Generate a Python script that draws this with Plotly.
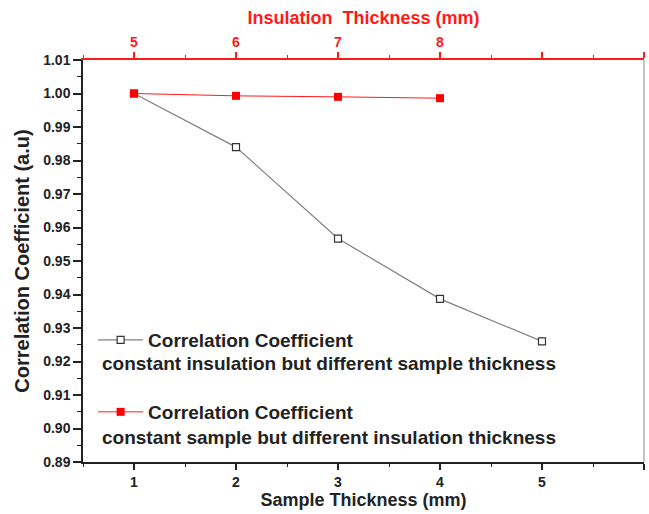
import plotly.graph_objects as go

sample_thickness = [1, 2, 3, 4, 5]
corr_sample = [1.000, 0.984, 0.9567, 0.9387, 0.926]
insulation_thickness = [5, 6, 7, 8]
corr_insulation = [1.000, 0.9993, 0.9990, 0.9986]

y_ticks = [0.89, 0.90, 0.91, 0.92, 0.93, 0.94, 0.95, 0.96, 0.97, 0.98, 0.99, 1.00, 1.01]
x_ticks = [1, 2, 3, 4, 5, 6]
x_ticktext = ["1", "2", "3", "4", "5", ""]
top_ticks = [5, 6, 7, 8, 9, 10]
top_ticktext = ["5", "6", "7", "8", "", ""]

FONT = "Liberation Sans"
RED = "#ff1a1a"
DARK = "#222222"

fig = go.Figure()
fig.add_trace(go.Scatter(
    x=sample_thickness, y=corr_sample, mode="lines+markers",
    name="Correlation Coefficient",
    line=dict(color="#808080", width=1.2),
    marker=dict(symbol="square", size=7, color="white", line=dict(color="#333333", width=1.2)),
    legend="legend",
))
fig.add_trace(go.Scatter(
    x=insulation_thickness, y=corr_insulation, mode="lines+markers",
    name="Correlation Coefficient",
    xaxis="x2",
    line=dict(color=RED, width=1),
    marker=dict(symbol="square", size=8, color="#ff0000"),
    legend="legend2",
))

tickfont = dict(family=FONT, size=14, color=DARK, weight="bold")
legfont = dict(family=FONT, size=19, color=DARK, weight="bold")

fig.update_layout(
    width=649, height=514,
    margin=dict(l=83, r=5, t=60, b=52),
    paper_bgcolor="white", plot_bgcolor="white",
    xaxis=dict(
        range=[0.5, 6.0], tickvals=x_ticks, ticktext=x_ticktext,
        ticks="outside", ticklen=6, tickwidth=1.5, tickcolor=DARK,
        showline=True, linecolor=DARK, linewidth=1.5, showgrid=False, zeroline=False,
        minor=dict(dtick=0.5, tick0=0.5, ticks="outside", ticklen=3, tickwidth=1.2, tickcolor=DARK, showgrid=False),
        tickfont=tickfont,
        title=dict(text="Sample Thickness (mm)", font=dict(family=FONT, size=18, color=DARK, weight="bold"), standoff=2),
    ),
    xaxis2=dict(
        range=[4.5, 10.0], overlaying="x", side="top", anchor="y",
        tickvals=top_ticks, ticktext=top_ticktext,
        ticks="outside", ticklen=6, tickwidth=1.5, tickcolor=RED,
        showline=True, linecolor=RED, linewidth=1.5, showgrid=False, zeroline=False,
        minor=dict(dtick=0.5, tick0=4.5, ticks="outside", ticklen=3, tickwidth=1.2, tickcolor=RED, showgrid=False),
        tickfont=dict(family=FONT, size=14, color=RED, weight="bold"),
        title=dict(text="Insulation&nbsp;&nbsp;Thickness (mm)", font=dict(family=FONT, size=18, color=RED, weight="bold"), standoff=4),
    ),
    yaxis=dict(
        range=[0.89, 1.01], tickvals=y_ticks, tickformat=".2f",
        ticks="outside", ticklen=8, tickwidth=1.5, tickcolor=DARK,
        showline=True, linecolor=DARK, linewidth=1.5, showgrid=False, zeroline=False,
        minor=dict(dtick=0.005, tick0=0.89, ticks="outside", ticklen=4, tickwidth=1.2, tickcolor=DARK, showgrid=False),
        tickfont=tickfont,
        title=dict(text="Correlation Coefficient (a.u)", font=dict(family=FONT, size=20, color=DARK, weight="bold"), standoff=8),
    ),
    legend=dict(
        x=0.018, y=0.3035, xanchor="left", yanchor="middle",
        bgcolor="rgba(0,0,0,0)", itemwidth=45, font=legfont,
    ),
    legend2=dict(
        x=0.018, y=0.1244, xanchor="left", yanchor="middle",
        bgcolor="rgba(0,0,0,0)", itemwidth=45, font=legfont,
    ),
    showlegend=True,
    shapes=[dict(type="line", xref="paper", yref="paper", x0=1, x1=1, y0=0, y1=1,
                 line=dict(color="#888888", width=1))],
    annotations=[
        dict(text="constant insulation but different sample thickness", xref="paper", yref="paper",
             x=0.031, y=0.246, xanchor="left", yanchor="middle", showarrow=False, font=legfont),
        dict(text="constant sample but different insulation thickness", xref="paper", yref="paper",
             x=0.031, y=0.062, xanchor="left", yanchor="middle", showarrow=False, font=legfont),
    ],
)

fig.write_html("out.html")
